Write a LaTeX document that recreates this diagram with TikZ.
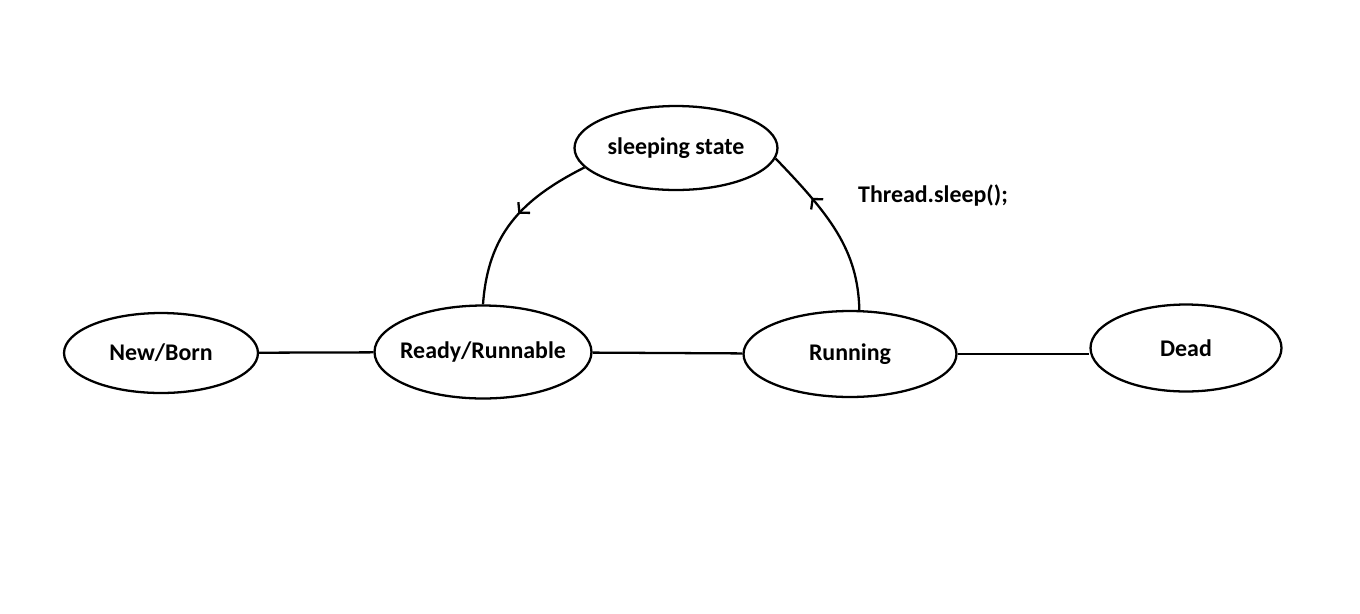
\documentclass[tikz,border=0pt]{standalone}
\usepackage{fontspec}
\setmainfont{Carlito}
\usetikzlibrary{shapes.geometric,decorations.markings,arrows.meta}
\begin{document}
\begin{tikzpicture}[
   x=0.02cm, y=-0.02cm,
   statenode/.style={ellipse, draw=black, line width=1.3pt, inner sep=0, font=\bfseries\fontsize{13.6}{16}\selectfont},
   link/.style={line width=1.3pt},
   midarrow/.style={postaction={decorate}, decoration={markings, mark=at position #1 with {\arrow{Straight Barb[length=4pt,width=9pt]}}}}
  ]
  \useasboundingbox (0,0) rectangle (1360,613);
  % states
  \node[statenode, minimum width=3.88cm, minimum height=1.6cm] (born) at (161,353) {New/Born};
  \node[statenode, inner xsep=-4pt, minimum width=4.34cm, minimum height=1.86cm] (ready) at (483,352) {Ready/Runnable};
  \node[statenode, minimum width=4.26cm, minimum height=1.72cm] (running) at (850,354) {Running};
  \node[statenode, minimum width=3.82cm, minimum height=1.74cm] (dead) at (1186,348) {Dead};
  \node[statenode, minimum width=4.06cm, minimum height=1.68cm] (sleep) at (676,148) {sleeping state};
  \node[font=\bfseries\fontsize{13.6}{16}\selectfont, anchor=west] (sleepcall) at (852,196) {Thread.sleep();};
  % connectors
  \draw[link] (born) -- (ready);
  \draw[link] (ready) -- (running);
  \draw[link] (running.east) -- (dead.west |- running.east);
  \draw[link, midarrow=0.45] (sleep.192) .. controls (520,200) and (488,235) .. (ready.north);
  \draw[link, midarrow=0.7] (running.78) .. controls (858,250) and (830,215) .. (sleep.-6);
\end{tikzpicture}
\end{document}
